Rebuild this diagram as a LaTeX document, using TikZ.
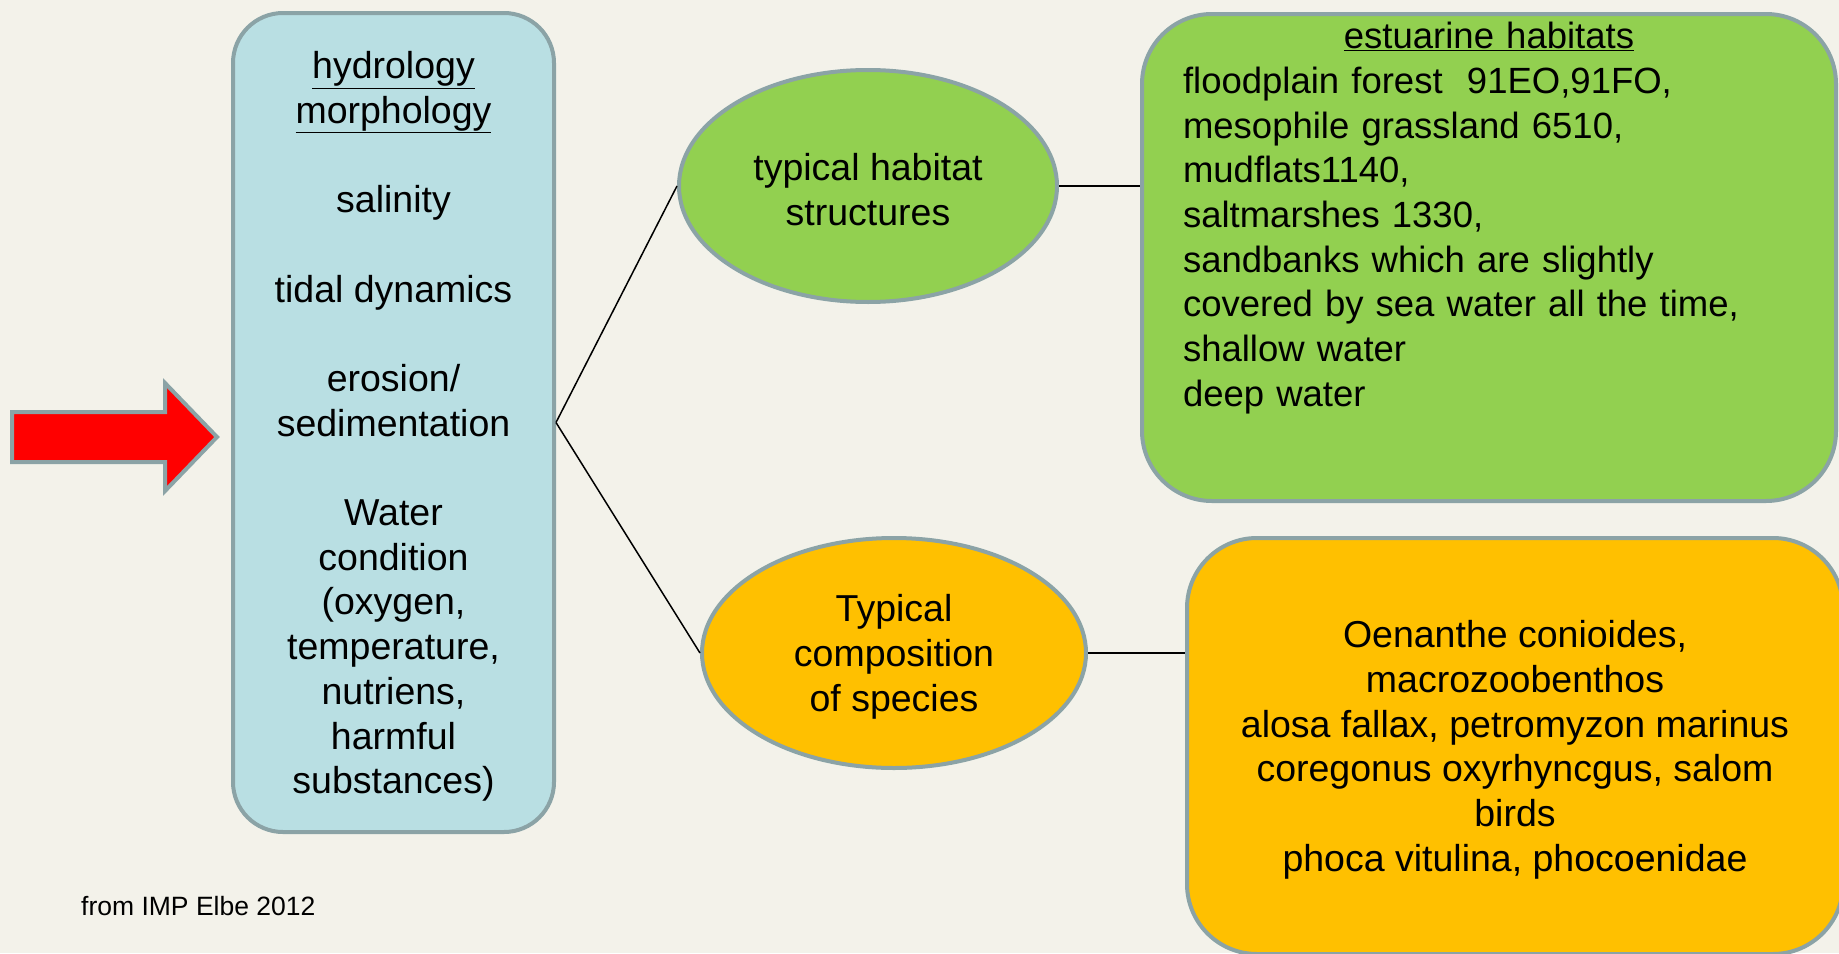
\documentclass[tikz,border=0pt]{standalone}
\usepackage{fontspec}
\setmainfont{Liberation Sans}
\usetikzlibrary{positioning,calc,shapes.geometric}
\definecolor{elbebg}{RGB}{243,242,234}
\definecolor{elbeblue}{RGB}{185,223,227}
\definecolor{elbegrey}{RGB}{139,163,166}
\definecolor{elbegreen}{RGB}{146,208,80}
\definecolor{elbeorange}{RGB}{255,192,0}
\newcommand{\bigtext}{\fontsize{37.5}{44.7}\selectfont}
\newcommand{\padtop}{\rule{0pt}{35pt}}

\begin{document}
\begin{tikzpicture}[x=1pt,y=-1pt,
  factor/.style={rectangle,rounded corners=50pt,draw=elbegrey,line width=4pt,fill=elbeblue,minimum width=321pt,minimum height=819pt,align=center,font=\bigtext,inner sep=0pt},
  oval/.style={ellipse,draw=elbegrey,line width=4pt,align=center,font=\bigtext,inner sep=0pt},
  panel/.style={rectangle,rounded corners=70pt,draw=elbegrey,line width=4pt,inner sep=0pt},
  link/.style={line width=1.5pt,black}]
\useasboundingbox (0,0) rectangle (1839,953);
\fill[elbebg] (0,0) rectangle (1839,953);
\clip (0,0) rectangle (1839,953);
% inflow arrow
\draw[elbegrey,line width=4pt,fill=red,line join=miter] (12,412) -- (165,412) -- (165,383) -- (217,437) -- (165,491) -- (165,462) -- (12,462) -- cycle;
\node[factor] (abiot) at (393.5,422.5) {\padtop\underline{hydrology}\\ \underline{morphology}\\[44.7pt] salinity\\[44.7pt] tidal dynamics\\[44.7pt] erosion/\\ sedimentation\\[44.7pt] Water\\ condition\\ (oxygen,\\ temperature,\\ nutriens,\\ harmful\\ substances)};
\node[oval,fill=elbegreen,minimum width=378pt,minimum height=232pt] (hab) at (868,186) {\padtop typical habitat\\structures};
\node[oval,fill=elbeorange,minimum width=384pt,minimum height=230pt] (spec) at (894,653) {\padtop Typical\\composition\\of species};
\node[panel,fill=elbegreen,minimum width=694pt,minimum height=487pt] (habbox) at (1489,257.5) {};
\node[anchor=north,yshift=-10pt,inner sep=0pt,text width=612pt,align=left,font=\fontsize{36.5}{44.7}\selectfont] (habtext) at (habbox.north) {\hfill\underline{estuarine habitats}\hfill\null\\ floodplain forest~ 91EO,91FO,\\ mesophile grassland 6510,\\ mudflats1140,\\ saltmarshes 1330,\\ sandbanks which are slightly\\ covered by sea water all the time,\\ shallow water\\ deep water};
\node[panel,fill=elbeorange,minimum width=656pt,minimum height=416pt,align=center,font=\bigtext] (specbox) at (1515,746) {\padtop Oenanthe conioides,\\ macrozoobenthos\\ alosa fallax, petromyzon marinus\\ coregonus oxyrhyncgus, salom\\ birds\\ phoca vitulina, phocoenidae};
\node[font=\fontsize{26.5}{32}\selectfont,anchor=west,inner sep=0pt] (src) at (81,906) {from IMP Elbe 2012};
\foreach \v in {hab,spec} \draw[link] (abiot.east) -- (\v.west);
\foreach \u/\v in {hab/habbox,spec/specbox} \draw[link] (\u.east) -- (\u.east -| \v.west);
\end{tikzpicture}
\end{document}
